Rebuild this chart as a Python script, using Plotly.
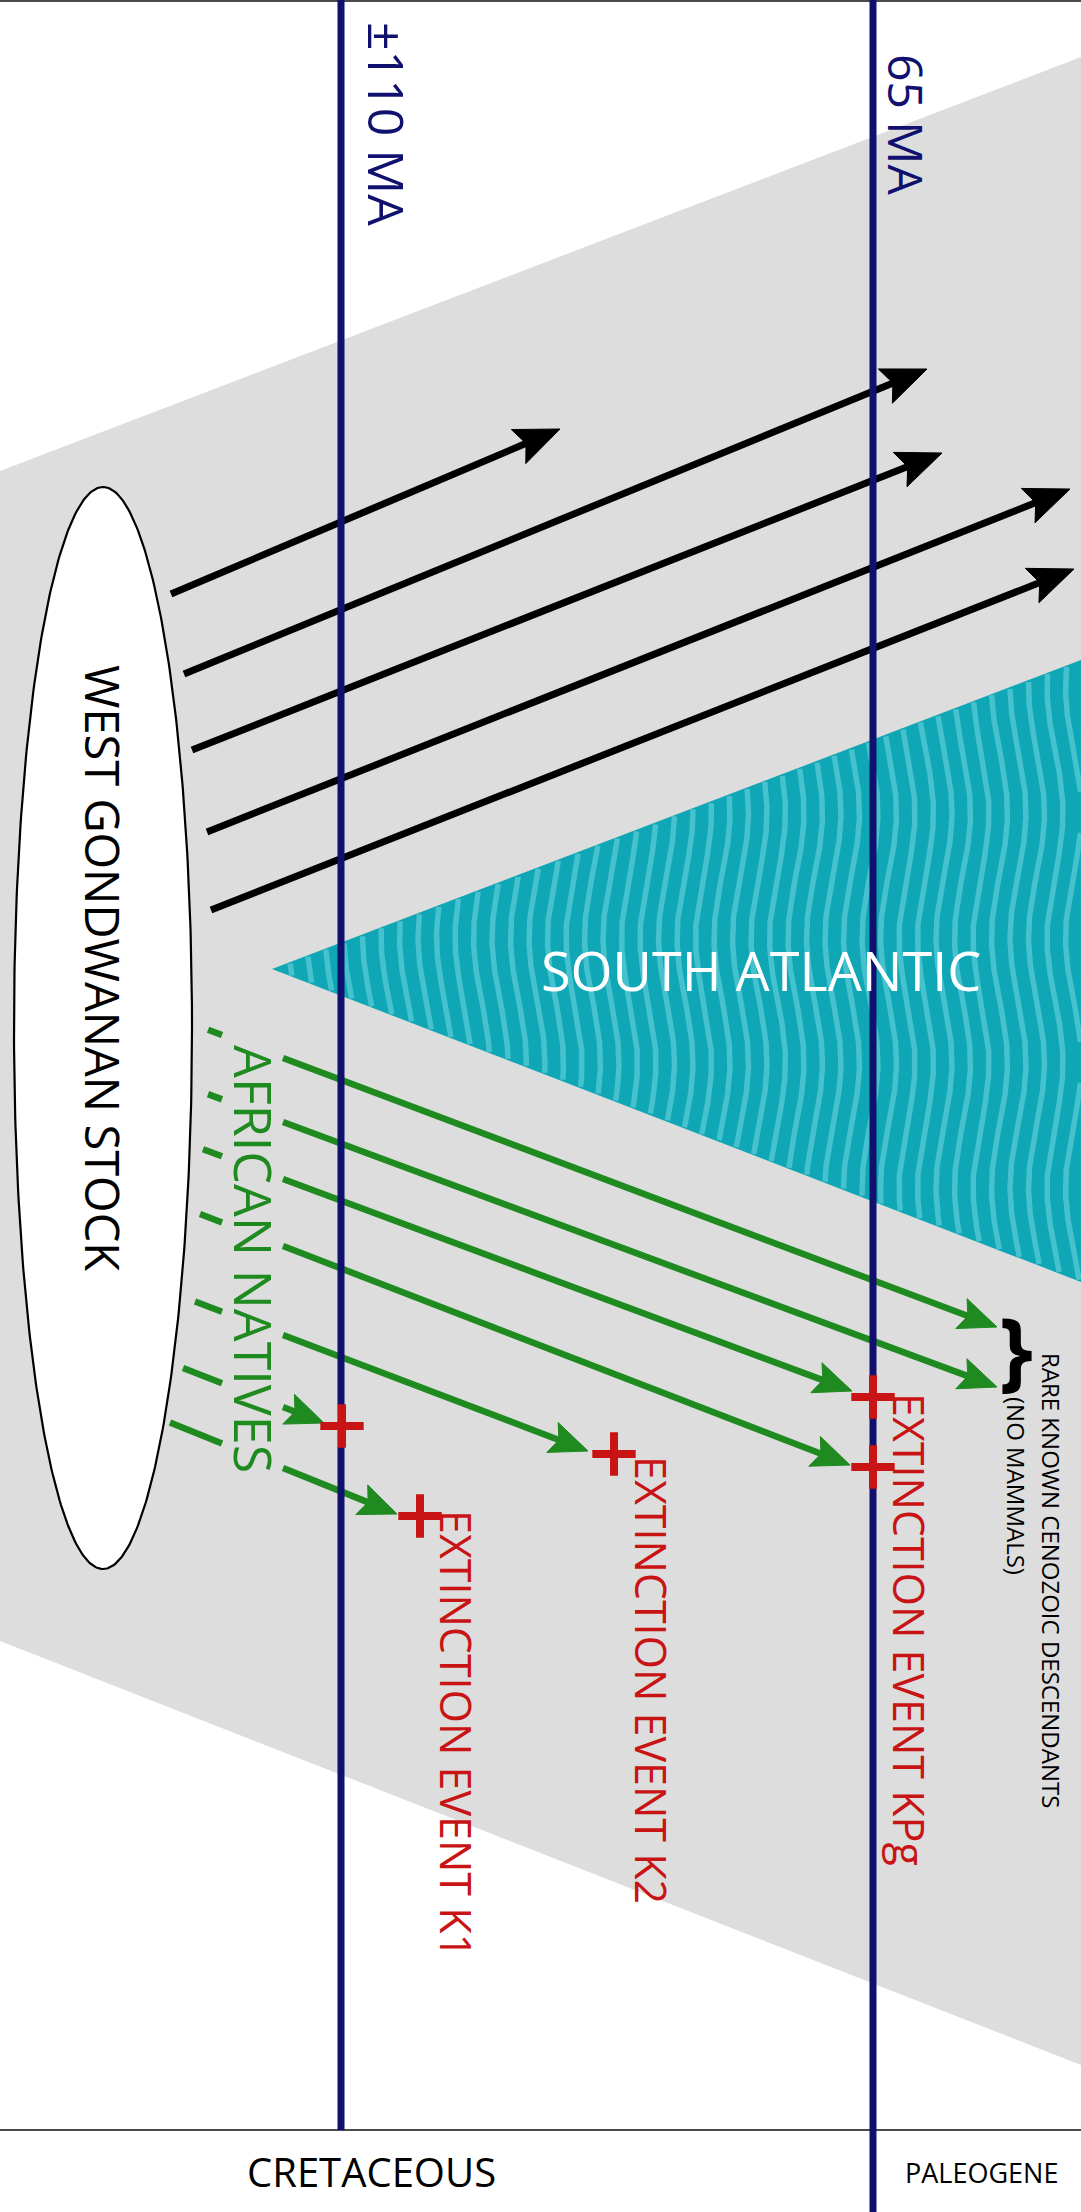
import numpy as np
import plotly.graph_objects as go

W, H = 1081, 2212

# ---------------- data (pixel-unit coordinate system of the diagram) ----------------
# time markers
time_labels = ["±110 MA", "65 MA"]
time_x = [341, 873]
time_line_end = [2130, 2212]
time_label_x = [387, 907]
time_label_y = [124, 125]
time_label_size = [50, 48]

# geological periods (footer)
period_labels = ["CRETACEOUS", "PALEOGENE"]
period_x = [371, 981]
period_y = [2171, 2172]
period_size = [40, 27]
footer_line_y = 2130

# grey dispersal band (left edge x=0, right edge x=W)
band_x = [0, 1081]
band_top = [471, 57]
band_bottom = [1641, 2065]

# South Atlantic wedge
ocean_x = [272, 1081, 1081]
ocean_y = [969, 660, 1282]
ocean_label = "SOUTH ATLANTIC"
ocean_label_pos = (761, 970)

# West Gondwanan stock ellipse
stock_label = "WEST GONDWANAN STOCK"
stock_cx, stock_cy = 103, 1028
stock_rx, stock_ry = 89, 541

# black arrows (lineages reaching South America)
black_start_x = [171, 184, 192, 207, 211]
black_start_y = [594, 674, 750, 832, 910]
black_tip_x = [560, 927, 942, 1070, 1074]
black_tip_y = [429, 369, 453, 489, 569]

# green arrows (African natives)
green_start_x = [283, 283, 283, 283, 283, 283, 283]
green_start_y = [1058, 1122, 1179, 1246, 1335, 1407, 1468]
green_tip_x = [997, 997, 852, 850, 588, 324, 397]
green_tip_y = [1327, 1387, 1391, 1465, 1451, 1423, 1514]
green_dash_x0 = [208, 208, 203, 200, 195, 183, 170]
green_dash_x1 = 222
natives_label = "AFRICAN NATIVES"
natives_pos = (255, 1259)

# extinction events
cross_x = [342, 420, 614, 873, 873]
cross_y = [1426, 1516, 1454, 1397, 1467]
ext_labels = ["EXTINCTION EVENT K1", "EXTINCTION EVENT K2", "EXTINCTION EVENT KPg"]
ext_x = [457, 652, 910]
ext_y = [1734, 1680, 1629]

# survivors note
note_lines = ["RARE KNOWN CENOZOIC DESCENDANTS", "(NO MAMMALS)"]
note_x = [1052, 1017]
note_y = [1580, 1486]
brace_pos = (1016, 1346)

# ---------------- styles ----------------
NAVY = "#10106f"
GREY = "#dddddd"
TEAL = "#0fa6b5"
TEAL_LIGHT = "#45c2ce"
GREEN = "#1f8a1f"
RED = "#c81414"
FONT = "Open Sans"

fig = go.Figure()

# grey band
fig.add_trace(go.Scatter(
    x=[band_x[0], band_x[1], band_x[1], band_x[0]],
    y=[band_top[0], band_top[1], band_bottom[1], band_bottom[0]],
    fill="toself", fillcolor=GREY, mode="lines", line=dict(width=0, color=GREY),
    hoverinfo="skip"))

# ocean wedge
fig.add_trace(go.Scatter(
    x=ocean_x, y=ocean_y, fill="toself", fillcolor=TEAL, mode="lines",
    line=dict(width=0, color=TEAL), hoverinfo="skip"))

# wavy stripes inside the wedge (texture)
def y_top(x):
    return ocean_y[0] + (ocean_y[1] - ocean_y[0]) * (x - ocean_x[0]) / (ocean_x[1] - ocean_x[0])

def y_bot(x):
    return ocean_y[0] + (ocean_y[2] - ocean_y[0]) * (x - ocean_x[0]) / (ocean_x[2] - ocean_x[0])

sx, sy = [], []
spacing, amp, period = 18.5, 8.0, 250.0
for xc in np.arange(ocean_x[0] + 6, ocean_x[1] + 12, spacing):
    ys = np.arange(y_top(xc) - 15, y_bot(xc) + 15, 1.0)
    xs = xc + amp * np.sin(2 * np.pi * ys / period)
    inside = (xs >= ocean_x[0]) & (xs <= ocean_x[1] - 0.5) & (ys >= y_top(xs) + 1) & (ys <= y_bot(xs) - 1)
    for xv, yv, ok in zip(xs, ys, inside):
        if ok:
            sx.append(float(xv)); sy.append(float(yv))
        else:
            if sx and sx[-1] is not None:
                sx.append(None); sy.append(None)
    sx.append(None); sy.append(None)
fig.add_trace(go.Scatter(x=sx, y=sy, mode="lines", line=dict(color=TEAL_LIGHT, width=5.5),
                         connectgaps=False, hoverinfo="skip"))

# ellipse
t = np.linspace(0, 2 * np.pi, 400)
fig.add_trace(go.Scatter(
    x=stock_cx + stock_rx * np.cos(t), y=stock_cy + stock_ry * np.sin(t),
    fill="toself", fillcolor="white", mode="lines", line=dict(color="black", width=2.2),
    hoverinfo="skip"))


def arrows(xs0, ys0, xs1, ys1, color, width, L, Wd, notch=0.82):
    lx, ly, hx, hy = [], [], [], []
    for x0, y0, x1, y1 in zip(xs0, ys0, xs1, ys1):
        d = np.hypot(x1 - x0, y1 - y0)
        ux, uy = (x1 - x0) / d, (y1 - y0) / d
        vx, vy = -uy, ux
        ex, ey = x1 - 0.8 * L * ux, y1 - 0.8 * L * uy
        if d > L:
            lx += [x0, ex, None]; ly += [y0, ey, None]
        bx, by = x1 - L * ux, y1 - L * uy
        hx += [x1, bx + Wd / 2 * vx, x1 - notch * L * ux, bx - Wd / 2 * vx, x1, None]
        hy += [y1, by + Wd / 2 * vy, y1 - notch * L * uy, by - Wd / 2 * vy, y1, None]
    fig.add_trace(go.Scatter(x=lx, y=ly, mode="lines", line=dict(color=color, width=width),
                             hoverinfo="skip"))
    fig.add_trace(go.Scatter(x=hx, y=hy, mode="lines", fill="toself", fillcolor=color,
                             line=dict(color=color, width=1), hoverinfo="skip"))


arrows(black_start_x, black_start_y, black_tip_x, black_tip_y, "black", 7, 45, 37)

# green dashed lead-ins
dx, dy = [], []
for x0s, y0s, x1t, y1t, xd in zip(green_start_x, green_start_y, green_tip_x, green_tip_y, green_dash_x0):
    slope = (y1t - y0s) / (x1t - x0s)
    dx += [xd, green_dash_x1, None]
    dy += [y0s + slope * (xd - x0s), y0s + slope * (green_dash_x1 - x0s), None]
fig.add_trace(go.Scatter(x=dx, y=dy, mode="lines", line=dict(color=GREEN, width=6.5),
                         hoverinfo="skip"))
arrows(green_start_x, green_start_y, green_tip_x, green_tip_y, GREEN, 6.5, 38, 32)

# footer separator and top border
fig.add_trace(go.Scatter(x=[0, W], y=[footer_line_y, footer_line_y], mode="lines",
                         line=dict(color="#4a4a4a", width=2), hoverinfo="skip"))
fig.add_trace(go.Scatter(x=[0, W], y=[1, 1], mode="lines",
                         line=dict(color="#4a4a4a", width=2), hoverinfo="skip"))

# time lines
for xv, ye in zip(time_x, time_line_end):
    fig.add_trace(go.Scatter(x=[xv, xv], y=[0, ye], mode="lines",
                             line=dict(color=NAVY, width=7), hoverinfo="skip"))

# extinction crosses
fig.add_trace(go.Scatter(x=cross_x, y=cross_y, mode="markers",
                         marker=dict(symbol="cross-thin", size=31, color=RED,
                                     line=dict(width=8, color=RED)),
                         hoverinfo="skip"))

# ---------------- text ----------------
ann = []
def txt(x, y, s, size, color, angle=90, weight="normal"):
    ann.append(dict(x=x, y=y, xref="x", yref="y", text=s, showarrow=False, textangle=angle,
                    xanchor="center", yanchor="middle",
                    font=dict(family=FONT, size=size, color=color, weight=weight)))

for s, xv, yv, fs in zip(time_labels, time_label_x, time_label_y, time_label_size):
    txt(xv, yv, s, fs, NAVY)
txt(stock_cx, 968, stock_label, 47, "black")
txt(ocean_label_pos[0], ocean_label_pos[1], ocean_label, 54, "white", angle=0)
txt(natives_pos[0], natives_pos[1], natives_label, 52, GREEN)
for s, xv, yv in zip(ext_labels, ext_x, ext_y):
    txt(xv, yv, s, 43, RED)
for s, xv, yv in zip(note_lines, note_x, note_y):
    txt(xv, yv, s, 24, "black")
txt(brace_pos[0], brace_pos[1], "}", 86, "black", angle=0, weight="bold")
for s, xv, yv, fs in zip(period_labels, period_x, period_y, period_size):
    txt(xv, yv, s, fs, "black", angle=0)

fig.update_layout(
    width=W, height=H, margin=dict(l=0, r=0, t=0, b=0), autosize=False,
    paper_bgcolor="white", plot_bgcolor="white", showlegend=False,
    xaxis=dict(range=[0, W], visible=False, fixedrange=True),
    yaxis=dict(range=[H, 0], visible=False, fixedrange=True),
    annotations=ann,
)

fig.write_html("out.html", config={"displayModeBar": False},
               post_script="document.body.style.margin='0';")
